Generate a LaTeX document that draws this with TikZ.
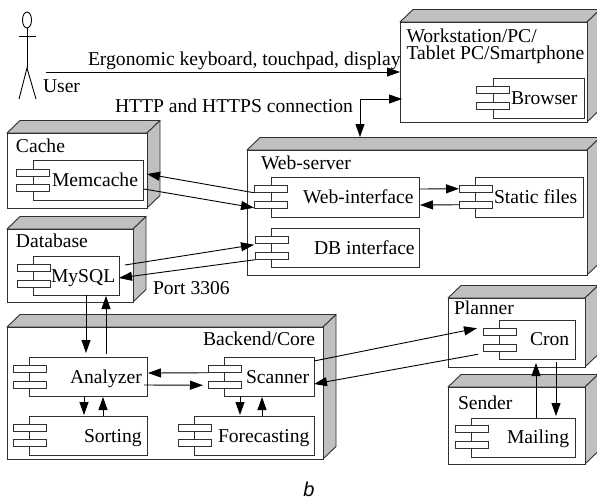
\documentclass[tikz,border=0pt]{standalone}
\usepackage{fontspec}
\setmainfont{Liberation Serif}
\newfontfamily\capfont{Liberation Sans}
\usetikzlibrary{arrows.meta,shapes.geometric}
\definecolor{devgrey}{HTML}{C0C0C0}
\definecolor{devline}{HTML}{303030}
\tikzset{
  box/.style={draw=devline,line width=0.9pt,fill=white,inner sep=0pt,outer sep=0pt},
  face/.style={draw=devline,line width=0.9pt,fill=devgrey,line join=round},
  lbl/.style={anchor=base west,inner sep=0pt,outer sep=0pt,font=\fontsize{19.6}{17}\selectfont},
  arr/.style={draw=black,line width=0.9pt,-{Triangle[length=13pt,width=9pt]}},
  biarr/.style={draw=black,line width=0.9pt,{Triangle[length=13pt,width=9pt]}-{Triangle[length=13pt,width=9pt]}},
  actor/.style={draw=black,line width=0.9pt}
}
% device: name, x1, y1, x2, y2 (front face, pixel coordinates)
\newcommand{\devbox}[5]{%
  \pgfmathsetmacro{\bw}{#4-#2}\pgfmathsetmacro{\bh}{#5-#3}%
  \pgfmathsetmacro{\cx}{(#2+#4)/2}\pgfmathsetmacro{\cy}{(#3+#5)/2}%
  \path[face] (#2,#3) -- (#2+13,#3-12.5) -- (#4+13,#3-12.5) -- (#4,#3) -- cycle;
  \path[face] (#4,#3) -- (#4+13,#3-12.5) -- (#4+13,#5-12.5) -- (#4,#5) -- cycle;
  \node[box,minimum width=\bw pt,minimum height=\bh pt] (#1) at (\cx,\cy) {};
}
% component: name, x1, y1, x2, y2, tab x, tab1 y, tab2 y
\newcommand{\compbox}[8]{%
  \pgfmathsetmacro{\bw}{#4-#2}\pgfmathsetmacro{\bh}{#5-#3}%
  \pgfmathsetmacro{\cx}{(#2+#4)/2}\pgfmathsetmacro{\cy}{(#3+#5)/2}%
  \node[box,minimum width=\bw pt,minimum height=\bh pt] (#1) at (\cx,\cy) {};
  \node[box,minimum width=33pt,minimum height=7.5pt] (#1A) at (#6+16.5,#7+3.75) {};
  \node[box,minimum width=33pt,minimum height=7.5pt] (#1B) at (#6+16.5,#8+3.75) {};
}
\begin{document}
\begin{tikzpicture}[x=1pt,y=-1pt]
\useasboundingbox (0,0) rectangle (597,499);
% devices
\devbox{ws}{400}{22}{587}{122}
\devbox{cache}{7}{133}{147}{208}
\devbox{web}{247}{150}{587}{275}
\devbox{database}{7}{229}{133}{302}
\devbox{backend}{7}{327}{323}{459}
\devbox{planner}{448}{298}{585}{367}
\devbox{sender}{448}{387}{585}{464}
% components
\compbox{browser}{493}{78}{584}{118}{476}{86}{102}
\compbox{mc}{33}{160}{143}{200}{16}{169}{184}
\compbox{mysql}{33}{256}{119}{295}{17}{264}{280}
\compbox{wi}{271}{177}{419}{217}{254}{185}{201}
\compbox{sf}{475}{177}{583}{217}{459}{185}{201}
\compbox{dbi}{271}{228}{419}{267}{255}{236}{252}
\compbox{analyzer}{29}{357}{147}{396}{13}{365}{381}
\compbox{sorting}{29}{416}{147}{455}{13}{424}{439}
\compbox{scanner}{224}{357}{314}{396}{208}{365}{381}
\compbox{forecast}{194}{416}{314}{455}{178}{424}{439}
\compbox{cron}{499}{320}{575}{359}{483}{328}{344}
\compbox{mailing}{471}{418}{575}{457}{455}{425}{441}
% actor
\node[draw=black,line width=0.9pt,ellipse,inner sep=0pt,minimum width=9pt,minimum height=16pt] (head) at (27,20) {};
\coordinate (hip) at (27,68);
\coordinate (armL) at (19,36);
\coordinate (armR) at (36,36);
\coordinate (footL) at (19,99);
\coordinate (footR) at (36,99);
\draw[actor] (head.south) -- (hip);
\draw[actor] (armL) -- (armR);
\draw[actor] (footL) -- (hip) -- (footR);
% labels
\node[lbl,align=left,anchor=north west] (l1) at (406.5,28.5) {Workstation/PC/\\Tablet PC/Smartphone};
\node[lbl] (l3) at (511,104) {Browser};
\node[lbl] (l4) at (88,65) {Ergonomic keyboard, touchpad, display};
\node[lbl] (l5) at (43,92) {User};
\node[lbl] (l6) at (115,112) {HTTP and HTTPS connection};
\node[lbl] (l7) at (16,152) {Cache};
\node[lbl] (l8) at (52,186) {Memcache};
\node[lbl] (l9) at (16,247) {Database};
\node[lbl] (l10) at (51,282) {MySQL};
\node[lbl] (l11) at (153,294) {Port 3306};
\node[lbl] (l12) at (261,169) {Web-server};
\node[lbl] (l13) at (303,203) {Web-interface};
\node[lbl] (l14) at (494,203) {Static files};
\node[lbl] (l15) at (314,254) {DB interface};
\node[lbl] (l16) at (203,345) {Backend/Core};
\node[lbl] (l17) at (70,383) {Analyzer};
\node[lbl] (l18) at (246,383) {Scanner};
\node[lbl] (l19) at (84,442) {Sorting};
\node[lbl] (l20) at (218,442) {Forecasting};
\node[lbl] (l21) at (454,314) {Planner};
\node[lbl] (l22) at (530,345) {Cron};
\node[lbl] (l23) at (458,409) {Sender};
\node[lbl] (l24) at (507,443) {Mailing};
\node[anchor=base,inner sep=0pt,font=\capfont\itshape\fontsize{20}{20}\selectfont] (cap) at (309,496) {b};
% connectors
\coordinate (userEnd) at (46,72);
\coordinate (webDoor) at (360,137);
\draw[arr] (userEnd) -- (ws.west);
\draw[biarr] ([xshift=2pt,yshift=-27pt]ws.west) -| (webDoor);
\draw[arr] ([yshift=-4pt]wiA.west) -- ([xshift=4pt,yshift=6pt]mc.east);
\draw[arr] ([xshift=1pt,yshift=-9pt]mc.east) -- ([yshift=-3pt]wiB.west);
\draw[arr] ([yshift=8pt]wi.east) -- (sfA.west);
\draw[arr] (sfB.west) -- ([xshift=1pt,yshift=-8pt]wi.east);
\draw[arr] ([xshift=6pt,yshift=10.5pt]mysql.east) -- ([xshift=-1pt,yshift=-5pt]dbiA.west);
\draw[arr] ([yshift=-4pt]dbiB.west) -- ([yshift=-2.5pt]mysql.east);
\draw[arr] ([xshift=10pt]mysql.south) -- ([xshift=-2pt,yshift=4pt]analyzer.north);
\draw[arr] ([xshift=18pt,yshift=3pt]analyzer.north) -- ([xshift=30pt,yshift=-1pt]mysql.south);
\draw[arr] ([yshift=-4pt]scannerA.west) -- ([xshift=1pt,yshift=3.5pt]analyzer.east);
\draw[arr] ([xshift=-3pt,yshift=-8.5pt]analyzer.east) -- ([xshift=-5pt,yshift=-0.5pt]scannerB.west);
\draw[arr] ([xshift=-4pt]analyzer.south) -- ([xshift=-4pt,yshift=1pt]sorting.north);
\draw[arr] ([xshift=15pt]sorting.north) -- ([xshift=15pt,yshift=-1pt]analyzer.south);
\draw[arr] ([xshift=-29pt]scanner.south) -- ([xshift=-14pt,yshift=1pt]forecast.north);
\draw[arr] ([xshift=8pt]forecast.north) -- ([xshift=-7pt,yshift=-1pt]scanner.south);
\draw[arr] ([yshift=15.5pt]scanner.east) -- ([xshift=-6pt,yshift=3.5pt]cronA.west);
\draw[arr] ([xshift=-5pt,yshift=-6.5pt]cronB.west) -- ([yshift=-7.5pt]scanner.east);
\draw[arr] ([xshift=13pt]mailing.north) -- ([xshift=-1pt,yshift=-4pt]cron.south);
\draw[arr] ([xshift=19pt,yshift=-3pt]cron.south) -- ([xshift=33pt,yshift=2pt]mailing.north);
\end{tikzpicture}
\end{document}
